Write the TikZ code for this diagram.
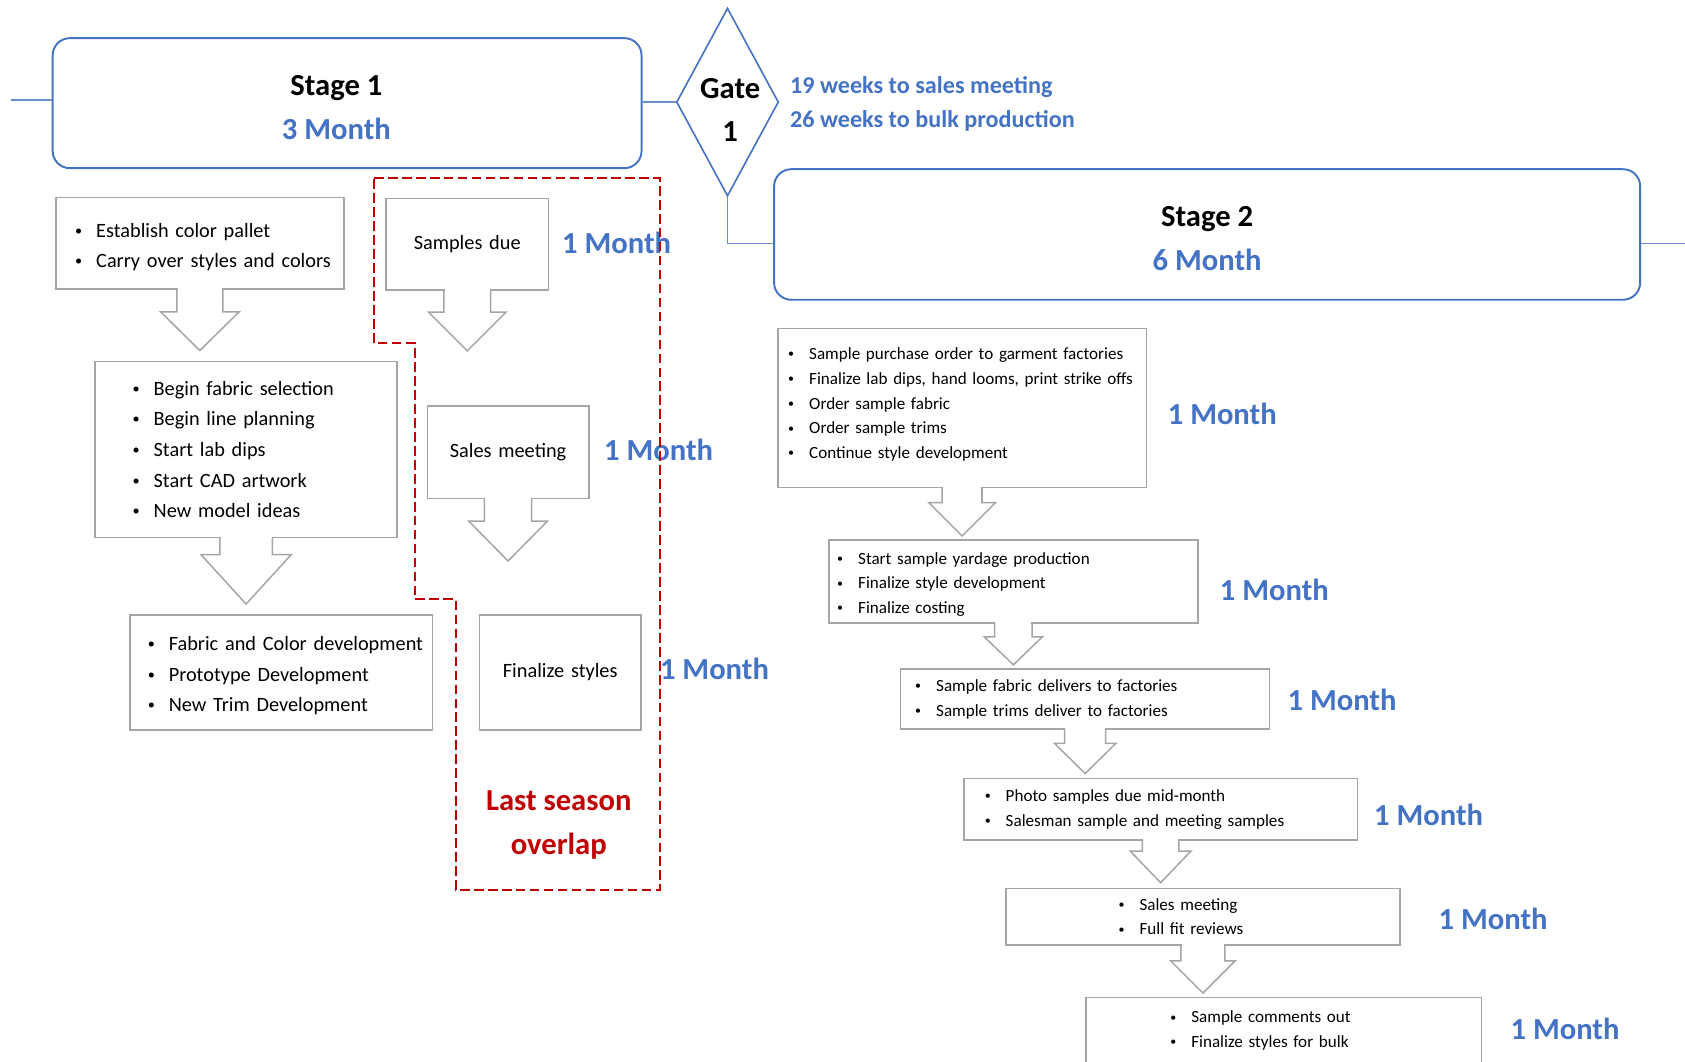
\documentclass[tikz,border=0pt]{standalone}
\usepackage{fontspec}
\setmainfont{Carlito}
\usepackage{tikz}
\usetikzlibrary{shapes.geometric}
\usepackage{xcolor}
\definecolor{stageblue}{HTML}{4472C4}
\definecolor{boxgray}{HTML}{A5A5A5}
\definecolor{overlapred}{HTML}{C00000}
\newlength{\listindent}
\tikzset{
  stagebox/.style={draw=stageblue, line width=1.8pt, rounded corners=16pt, fill=white,
    align=center, font=\fontsize{28.5}{41}\selectfont\bfseries},
  gatebox/.style={draw=stageblue, line width=1.5pt, diamond, inner sep=0pt,
    minimum width=95pt, minimum height=175pt},
  stageline/.style={draw=stageblue!80, line width=1.2pt},
  stepbox/.style={draw=boxgray, line width=1.4pt, fill=white, inner xsep=0pt, align=left},
  bigtext/.style={font=\fontsize{18.9}{28.5}\selectfont},
  smalltext/.style={font=\fontsize{15.9}{23}\selectfont},
  list indent/.code={\setlength{\listindent}{#1}},
  month/.style={anchor=west, inner sep=0pt, text=stageblue,
    font=\fontsize{28.5}{34}\selectfont\bfseries},
  flowarrow/.style={draw=boxgray, line width=1.4pt, line join=miter},
  overlap/.style={draw=overlapred, line width=1.8pt, dash pattern=on 9pt off 4pt}
}
% bullet at the start of a list line
\newcommand{\bul}{\hspace*{\listindent}\makebox[19.5pt][l]{\raisebox{0.1em}{\scalebox{0.7}{\textbullet}}}}
% open arrow hanging below a box
% #1 box, #2 stem half-width, #3 head half-width, #4 stem length, #5 head length
\newcommand{\dropArrow}[5]{%
  \fill[white] ([xshift=-#2pt+0.7pt]#1.south) rectangle ([xshift=#2pt-0.7pt,yshift=2.2pt]#1.south);
  \draw[flowarrow] ([xshift=-#2pt,yshift=0.7pt]#1.south) -- ++(0,#4+0.7) -- ++(#2-#3,0)
    -- ++(#3,#5) -- ++(#3,-#5) -- ++(#2-#3,0) -- ++(0,-#4-0.7);
}

\begin{document}
\begin{tikzpicture}[x=1pt, y=-1pt]
  \useasboundingbox (0,0) rectangle (1568,988);

  % stages and gate
  \node[stagebox, minimum width=548pt, minimum height=121pt] (stage1) at (323,96)
    {\rule{0pt}{27pt}Stage 1\hspace*{20pt}\\{\color{stageblue}3 Month}\hspace*{20pt}};
  \node[stagebox, minimum width=806pt, minimum height=121.5pt] (stage2) at (1123.3,218.2)
    {\rule{0pt}{26pt}Stage 2\\{\color{stageblue}6 Month}};
  \node[gatebox] (gate) at (677,95) {};
  \node[align=center, inner sep=0pt, font=\fontsize{28.5}{40.5}\selectfont\bfseries] (gatetext)
    at (679.5,102.5) {Gate\\1};
  \node[anchor=west, align=left, inner sep=0pt, text=stageblue,
    font=\fontsize{22.5}{32}\selectfont\bfseries] (weeks) at (735,96.5)
    {19 weeks to sales meeting\\26 weeks to bulk production};

  \coordinate (entry) at (10,93);
  \coordinate (exit) at (1568,226.7);
  \draw[stageline] (entry) -- (entry -| stage1.west);
  \draw[stageline] (gate.west) -- (gate.west -| stage1.east);
  \draw[stageline] (gate.south) |- ([yshift=-8.5pt]stage2.west);
  \draw[stageline] ([yshift=-8.5pt]stage2.east) -- (exit);

  % stage 1, left column
  \node[stepbox, bigtext, list indent=18pt, text width=268pt, minimum height=85pt] (est) at (186,226.5)
    {\rule{0pt}{20pt}\bul Establish color pallet\\\bul Carry over styles and colors};
  \node[stepbox, bigtext, list indent=35pt, text width=281pt, minimum height=164pt] (fabric) at (229,418.4)
    {\bul Begin fabric selection\\\bul Begin line planning\\\bul Start lab dips\\\bul Start CAD artwork\\\bul New model ideas};
  \node[stepbox, bigtext, list indent=16.5pt, text width=281.5pt, minimum height=107pt] (develop) at (261.8,625.8)
    {\rule{0pt}{19pt}\bul Fabric and Color development\\\bul Prototype Development\\\bul New Trim Development};
  \dropArrow{est}{21.5}{36.5}{20.5}{36}
  \dropArrow{fabric}{24.5}{42}{15}{46}

  % stage 1, overlap column
  \node[stepbox, bigtext, align=center, text width=151pt, minimum height=85.3pt] (due) at (434.8,227.2) {Samples due};
  \node[stepbox, bigtext, align=center, text width=150.4pt, minimum height=86pt] (sales) at (472.8,420.8) {Sales meeting};
  \node[stepbox, bigtext, align=center, text width=150pt, minimum height=107pt] (finalize) at (521.3,625.8) {Finalize styles};
  \dropArrow{due}{21.7}{36}{20}{36}
  \dropArrow{sales}{22}{36.5}{20.5}{37}

  % stage 2
  \node[stepbox, smalltext, list indent=9.7pt, text width=343pt, minimum height=148pt] (po) at (895.3,379.6)
    {\bul Sample purchase order to garment factories\\\bul Finalize lab dips, hand looms, print strike offs\\\bul Order sample fabric\\\bul Order sample trims\\\bul Continue style development\rule[-9pt]{0pt}{0pt}};
  \node[stepbox, smalltext, list indent=7.7pt, text width=343.2pt, minimum height=77.5pt] (yardage) at (943,541.2)
    {\rule{0pt}{16pt}\bul Start sample yardage production\\\bul Finalize style development\\\bul Finalize costing};
  \node[stepbox, smalltext, list indent=13.6pt, text width=343.5pt, minimum height=56pt] (deliver) at (1009.8,650.6)
    {\bul Sample fabric delivers to factories\\\bul Sample trims deliver to factories};
  \node[stepbox, smalltext, list indent=19.4pt, text width=366pt, minimum height=57.4pt] (photo) at (1080,753)
    {\bul Photo samples due mid-month\\\bul Salesman sample and meeting samples};
  \node[stepbox, smalltext, list indent=105pt, text width=367pt, minimum height=52.8pt] (fit) at (1119.4,853)
    {\bul Sales meeting\\\bul Full fit reviews};
  \node[stepbox, smalltext, list indent=78.5pt, text width=368pt, minimum height=62pt] (bulk) at (1194.6,959)
    {\bul Sample comments out\\\bul Finalize styles for bulk};
  \dropArrow{po}{18.5}{31}{13.5}{31}
  \dropArrow{yardage}{17.5}{27}{12}{26}
  \dropArrow{deliver}{19}{28.5}{12.5}{28}
  \dropArrow{photo}{17}{28.3}{9.5}{29.5}
  \dropArrow{fit}{20.5}{30}{14}{30}

  % durations
  \node[month] (m1) at (523,226) {1 Month};
  \node[month] (m2) at (562,419) {1 Month};
  \node[month] (m3) at (614,622) {1 Month};
  \node[month] (m4) at (1086.5,385.5) {1 Month};
  \node[month] (m5) at (1135,549) {1 Month};
  \node[month] (m6) at (1198,651) {1 Month};
  \node[month] (m7) at (1278.6,758) {1 Month};
  \node[month] (m8) at (1338.6,855) {1 Month};
  \node[month] (m9) at (1405.5,957.5) {1 Month};

  % last season overlap
  \draw[overlap] (348,166) -- (614,166) -- (614,828) -- (424,828) -- (424,557.5)
    -- (386,557.5) -- (386,319.5) -- (348,319.5) -- cycle;
  \node[align=center, inner sep=0pt, text=overlapred, font=\fontsize{28.5}{41}\selectfont\bfseries] (lastseason)
    at (520,768) {Last season\\overlap};
\end{tikzpicture}
\end{document}
